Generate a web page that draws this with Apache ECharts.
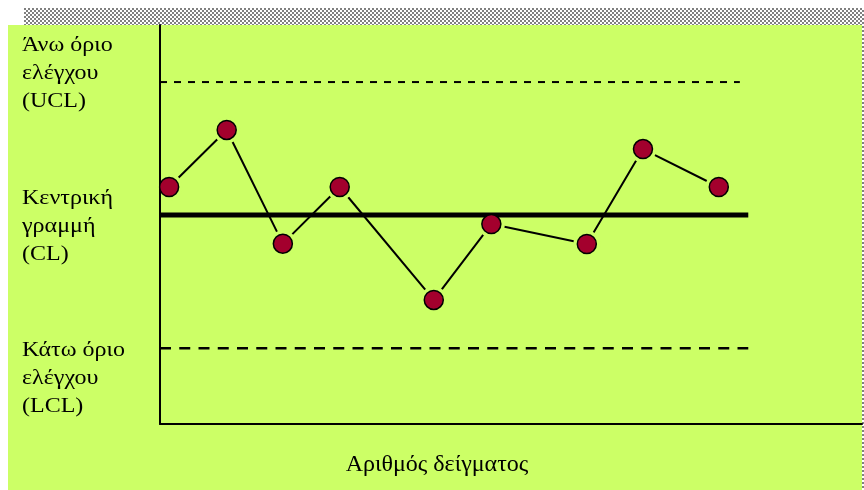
<!DOCTYPE html>
<html>
<head>
<meta charset="utf-8">
<script src="https://cdn.jsdelivr.net/npm/echarts@6/dist/echarts.min.js"></script>
<style>
  html, body { margin: 0; padding: 0; background: #fff; }
  #main { width: 864px; height: 490px; }
</style>
</head>
<body>
<div id="main"></div>
<script>
// δείγματα: θέση στον άξονα x και τιμή
var sampleX = [1.3, 9.5, 17.5, 25.6, 39.0, 47.2, 60.8, 68.8, 79.6];
var sampleY = [59.4, 73.7, 45.2, 59.4, 31.1, 50.1, 45.1, 68.9, 59.4];

// όρια ελέγχου
var uclValue = 85.7;
var clValue = 52.4;
var lclValue = 19.0;
var uclEnd = 82.6;
var clEnd = 83.8;
var lclEnd = 83.8;

// κείμενα
var uclLabel = ['Άνω όριο', 'ελέγχου', '(UCL)'];
var clLabel = ['Κεντρική', 'γραμμή', '(CL)'];
var lclLabel = ['Κάτω όριο', 'ελέγχου', '(LCL)'];
var xTitle = 'Αριθμός δείγματος';

var points = sampleX.map(function (x, i) { return [x, sampleY[i]]; });

// μοτίβο σκακιέρας για το πάνω περιθώριο
var pat = document.createElement('canvas');
pat.width = 4;
pat.height = 4;
var pctx = pat.getContext('2d');
pctx.fillStyle = '#ffffff';
pctx.fillRect(0, 0, 4, 4);
pctx.fillStyle = '#808080';
pctx.fillRect(0, 0, 2, 2);
pctx.fillRect(2, 2, 2, 2);

var green = '#ccff66';
var serif = '"Liberation Serif", "Times New Roman", serif';

function labelLines(lines, firstY) {
	return lines.map(function (t, i) {
		return {
			type: 'text',
			z: 1,
			x: 22,
			y: firstY + i * 28,
			scaleX: 1.2,
			style: {
				text: t,
				x: 0,
				y: 0,
				font: '20px ' + serif,
				fill: '#000',
				textVerticalAlign: 'middle'
			}
		};
	});
}

var chart = echarts.init(document.getElementById('main'));

var option = {
	backgroundColor: '#ffffff',
	animation: false,
	graphic: [
		{ type: 'rect', z: -10, shape: { x: 8, y: 25, width: 854, height: 465 }, style: { fill: green } },
		{ type: 'rect', z: -10, shape: { x: 24, y: 8, width: 840, height: 17 }, style: { fill: { image: pat, repeat: 'repeat' } } },
		{ type: 'rect', z: -10, shape: { x: 862, y: 25, width: 2, height: 465 }, style: { fill: { image: pat, repeat: 'repeat' } } },
		{
			type: 'text',
			z: 1,
			style: {
				text: xTitle,
				x: 437,
				y: 465,
				font: '24px ' + serif,
				fill: '#000',
				textAlign: 'center',
				textVerticalAlign: 'middle'
			}
		}
	].concat(labelLines(uclLabel, 46), labelLines(clLabel, 199), labelLines(lclLabel, 351)),
	grid: { left: 160, right: 2, top: 25, bottom: 66 },
	xAxis: {
		type: 'value',
		min: 0,
		max: 100,
		z: 4,
		axisLine: { show: true, onZero: false, lineStyle: { color: '#000', width: 2 } },
		axisTick: { show: false },
		axisLabel: { show: false },
		splitLine: { show: false }
	},
	yAxis: {
		type: 'value',
		min: 0,
		max: 100,
		z: 4,
		axisLine: { show: true, onZero: false, lineStyle: { color: '#000', width: 2 } },
		axisTick: { show: false },
		axisLabel: { show: false },
		splitLine: { show: false }
	},
	series: [
		{
			name: 'UCL',
			type: 'line',
			z: 2,
			symbol: 'none',
			silent: true,
			data: [[0, uclValue], [uclEnd, uclValue]],
			lineStyle: { color: '#000', width: 2, type: [7, 7] }
		},
		{
			name: 'LCL',
			type: 'line',
			z: 2,
			symbol: 'none',
			silent: true,
			data: [[0, lclValue], [lclEnd, lclValue]],
			lineStyle: { color: '#000', width: 2.5, type: [11, 8.25] }
		},
		{
			name: 'δείγματα',
			type: 'line',
			z: 2,
			symbol: 'none',
			data: points,
			lineStyle: { color: '#000', width: 2 }
		},
		{
			// πράσινο περιθώριο γύρω από τα σημεία
			name: 'halo',
			type: 'scatter',
			z: 3,
			symbolSize: 27,
			silent: true,
			data: points,
			itemStyle: { color: green, opacity: 1 }
		},
		{
			name: 'CL',
			type: 'line',
			z: 4,
			symbol: 'none',
			silent: true,
			data: [[0, clValue], [clEnd, clValue]],
			lineStyle: { color: '#000', width: 5 }
		},
		{
			name: 'σημεία',
			type: 'scatter',
			z: 5,
			symbolSize: 19,
			data: points,
			itemStyle: { color: '#a3002d', borderColor: '#000', borderWidth: 1.5, opacity: 1 }
		}
	]
};

chart.setOption(option);
</script>
</body>
</html>
